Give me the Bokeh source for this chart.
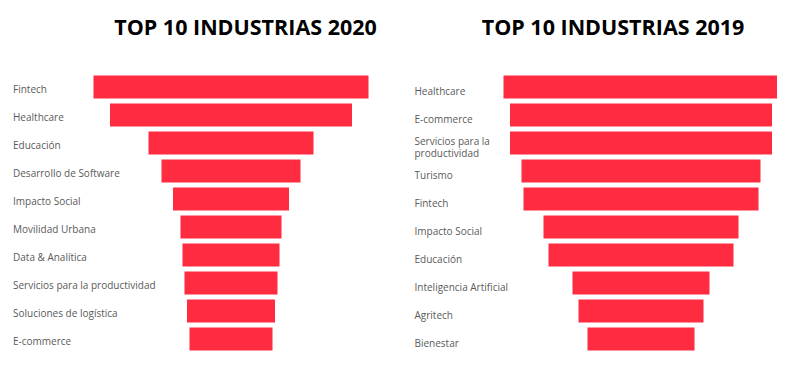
from bokeh.plotting import figure
from bokeh.layouts import row
from bokeh.models import ColumnDataSource, Range1d
from bokeh.core.properties import value
from bokeh.embed import file_html
from bokeh.resources import INLINE

# ---- data ----
industries_2020 = ["Fintech", "Healthcare", "Educación", "Desarrollo de Software",
                   "Impacto Social", "Movilidad Urbana", "Data & Analítica",
                   "Servicios para la productividad", "Soluciones de logística", "E-commerce"]
values_2020 = [275, 242, 165, 139, 116, 101, 97, 93, 88, 83]

industries_2019 = ["Healthcare", "E-commerce", "Servicios para la\nproductividad", "Turismo",
                   "Fintech", "Impacto Social", "Educación", "Inteligencia Artificial",
                   "Agritech", "Bienestar"]
values_2019 = [275, 262, 262, 239, 235, 195, 185, 137, 125, 107]

title_2020 = "TOP 10 INDUSTRIAS 2020"
title_2019 = "TOP 10 INDUSTRIAS 2019"

BAR_COLOR = "#FF2B40"
H = 355
PITCH = 28.0      # px per rank
FIRST_ROW = 86.5  # px from top to centre of first row


def panel(title, labels, vals, width, x_start, label_x, title_x, label_dy):
    n = len(vals)
    p = figure(width=width, height=H,
               x_range=Range1d(x_start, x_start + width),
               y_range=Range1d((H - FIRST_ROW) / PITCH, -FIRST_ROW / PITCH),
               x_axis_type=None, y_axis_type=None,
               min_border_left=0, min_border_right=0, min_border_top=0, min_border_bottom=0,
               toolbar_location=None, output_backend="svg", outline_line_color=None)
    p.grid.visible = False
    rank = list(range(n))
    src = ColumnDataSource(dict(
        rank=rank,
        left=[-v / 2 for v in vals],
        right=[v / 2 for v in vals],
        lx=[label_x] * n,
        label=labels,
    ))
    p.hbar(y="rank", left="left", right="right", height=23 / PITCH, source=src,
           fill_color=BAR_COLOR, line_color=None)
    p.text(x="lx", y="rank", text="label", source=src, text_align="left",
           text_baseline="middle", text_font=value("Open Sans"), text_font_size="10px",
           text_color="#5a5a5a", y_offset=label_dy, text_line_height=0.81)
    # title anchored to the first row, raised above the bars
    p.text(x=[title_x], y=[rank[0]], text=[title], text_align="center",
           text_baseline="middle", text_font=value("Open Sans"), text_font_size="21.5px",
           text_font_style="bold", text_color="#000000", y_offset=-(FIRST_ROW - 26))
    return p


p1 = panel(title_2020, industries_2020, values_2020, 388, -230.5, -218, 14.5, 2)
p2 = panel(title_2019, industries_2019, values_2019, 389, -252.5, -226.5, -28, 4)

layout = row(p1, p2, spacing=0)
open("out.html", "w").write(file_html(layout, INLINE))
